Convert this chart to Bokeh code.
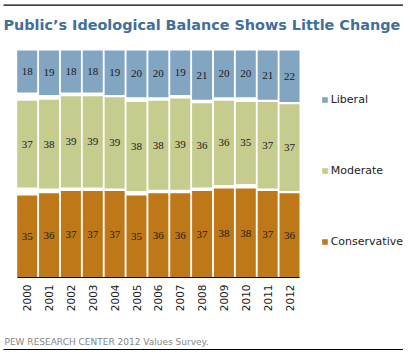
from math import pi
from bokeh.plotting import figure
from bokeh.models import (Range1d, LinearAxis, FixedTicker, Legend, LegendItem,
                          Label, BoxAnnotation, ColumnDataSource)
from bokeh.embed import file_html
from bokeh.resources import INLINE

# ---- data ----
years = [2000, 2001, 2002, 2003, 2004, 2005, 2006, 2007, 2008, 2009, 2010, 2011, 2012]
liberal = [18, 19, 18, 18, 19, 20, 20, 19, 21, 20, 20, 21, 22]
moderate = [37, 38, 39, 39, 39, 38, 38, 39, 36, 36, 35, 37, 37]
conservative = [35, 36, 37, 37, 37, 35, 36, 36, 37, 38, 38, 37, 36]
series_names = ["Liberal", "Moderate", "Conservative"]
title_text = "Public\u2019s Ideological Balance Shows Little Change"
source_text = "PEW RESEARCH  CENTER 2012 Values Survey."

# ---- styling ----
C_LIB = "#82A5C2"
C_MOD = "#C6CB8E"
C_CON = "#BE7817"
TITLE_C = "#3F6F9A"
FONT = "DejaVu Sans"
TOTAL = 97.0  # full bar height in percent units

W, H = 403, 350

# stacked positions (remaining share split into the two white gaps)
con_b, con_t, mod_b, mod_t, lib_b, lib_t = [], [], [], [], [], []
for l, m, c in zip(liberal, moderate, conservative):
    gap = (TOTAL - (l + m + c)) / 2.0
    con_b.append(0.0); con_t.append(c)
    mod_b.append(c + gap); mod_t.append(c + gap + m)
    lib_b.append(c + 2 * gap + m); lib_t.append(TOTAL)

src = ColumnDataSource(dict(
    x=years, con_b=con_b, con_t=con_t, mod_b=mod_b, mod_t=mod_t, lib_b=lib_b, lib_t=lib_t,
    con_y=[(a + b) / 2 for a, b in zip(con_b, con_t)],
    mod_y=[(a + b) / 2 for a, b in zip(mod_b, mod_t)],
    lib_y=[(a + b) / 2 for a, b in zip(lib_b, lib_t)],
    con_s=[str(v) for v in conservative],
    mod_s=[str(v) for v in moderate],
    lib_s=[str(v) for v in liberal],
))

# ranges: pixel mapping of the frame (frame fills the whole canvas)
px_per_year = 21.86
x0 = years[0] - 26.7 / px_per_year
x1 = x0 + W / px_per_year
px_per_unit = 227.0 / TOTAL
y0 = -(H - 277.0) / px_per_unit
y1 = TOTAL + 50.0 / px_per_unit

p = figure(width=W, height=H, output_backend="svg", toolbar_location=None,
           x_range=Range1d(x0, x1), y_range=Range1d(y0, y1),
           x_axis_location=None, y_axis_location=None,
           min_border=0, min_border_left=0, min_border_right=0,
           min_border_top=0, min_border_bottom=0)
p.outline_line_color = None
p.grid.visible = False
p.background_fill_color = "white"

BW = 0.915
r_con = p.vbar(x="x", bottom="con_b", top="con_t", width=BW, source=src,
               fill_color=C_CON, line_color=None)
r_mod = p.vbar(x="x", bottom="mod_b", top="mod_t", width=BW, source=src,
               fill_color=C_MOD, line_color=None)
r_lib = p.vbar(x="x", bottom="lib_b", top="lib_t", width=BW, source=src,
               fill_color=C_LIB, line_color=None)

for ycol, tcol in (("con_y", "con_s"), ("mod_y", "mod_s"), ("lib_y", "lib_s")):
    p.text(x="x", y=ycol, text=tcol, source=src, text_align="center",
           text_baseline="middle", text_font=FONT, text_font_size="11px",
           text_color="#1a1a1a")

# x axis at y = 0
xa = LinearAxis(fixed_location=0, ticker=FixedTicker(ticks=years),
                bounds=(years[0] - BW / 2, years[-1] + BW / 2))
xa.major_label_orientation = pi / 2
xa.major_tick_line_color = None
xa.minor_tick_line_color = None
xa.major_tick_in = 0
xa.major_tick_out = 0
xa.major_label_standoff = 7
xa.axis_line_color = "black"
xa.axis_line_width = 1
xa.major_label_text_font = FONT
xa.major_label_text_font_size = "10.5px"
xa.major_label_text_color = "#1a1a1a"
p.add_layout(xa, "below")

# legend
legend = Legend(items=[LegendItem(label=series_names[0], renderers=[r_lib]),
                       LegendItem(label=series_names[1], renderers=[r_mod]),
                       LegendItem(label=series_names[2], renderers=[r_con])],
                location=(320.7, H - 241.3 - 7), orientation="vertical",
                glyph_width=7, glyph_height=7, label_standoff=3,
                label_height=14, spacing=57, padding=0, margin=0,
                border_line_color=None, background_fill_alpha=0,
                label_text_font=FONT, label_text_font_size="11px",
                label_text_color="#222222")
p.add_layout(legend, "center")

# title, source, rules
p.add_layout(Label(x=3, y=H - 24, x_units="screen", y_units="screen", text=title_text,
                   text_font=FONT, text_font_style="bold", text_font_size="14.4px",
                   text_color=TITLE_C, text_baseline="alphabetic"))
p.add_layout(Label(x=4, y=H - 341.7, x_units="screen", y_units="screen", text=source_text,
                   text_font=FONT, text_font_size="9px", text_color="#858585",
                   text_baseline="alphabetic"))
p.add_layout(BoxAnnotation(left=3, right=403, bottom=H - 5.2, top=H - 4,
                           left_units="screen", right_units="screen",
                           bottom_units="screen", top_units="screen",
                           fill_color="black", fill_alpha=1, line_color=None))
p.add_layout(BoxAnnotation(left=3, right=403, bottom=0.3, top=1.5,
                           left_units="screen", right_units="screen",
                           bottom_units="screen", top_units="screen",
                           fill_color="black", fill_alpha=1, line_color=None))

open("out.html", "w").write(file_html(p, INLINE))
